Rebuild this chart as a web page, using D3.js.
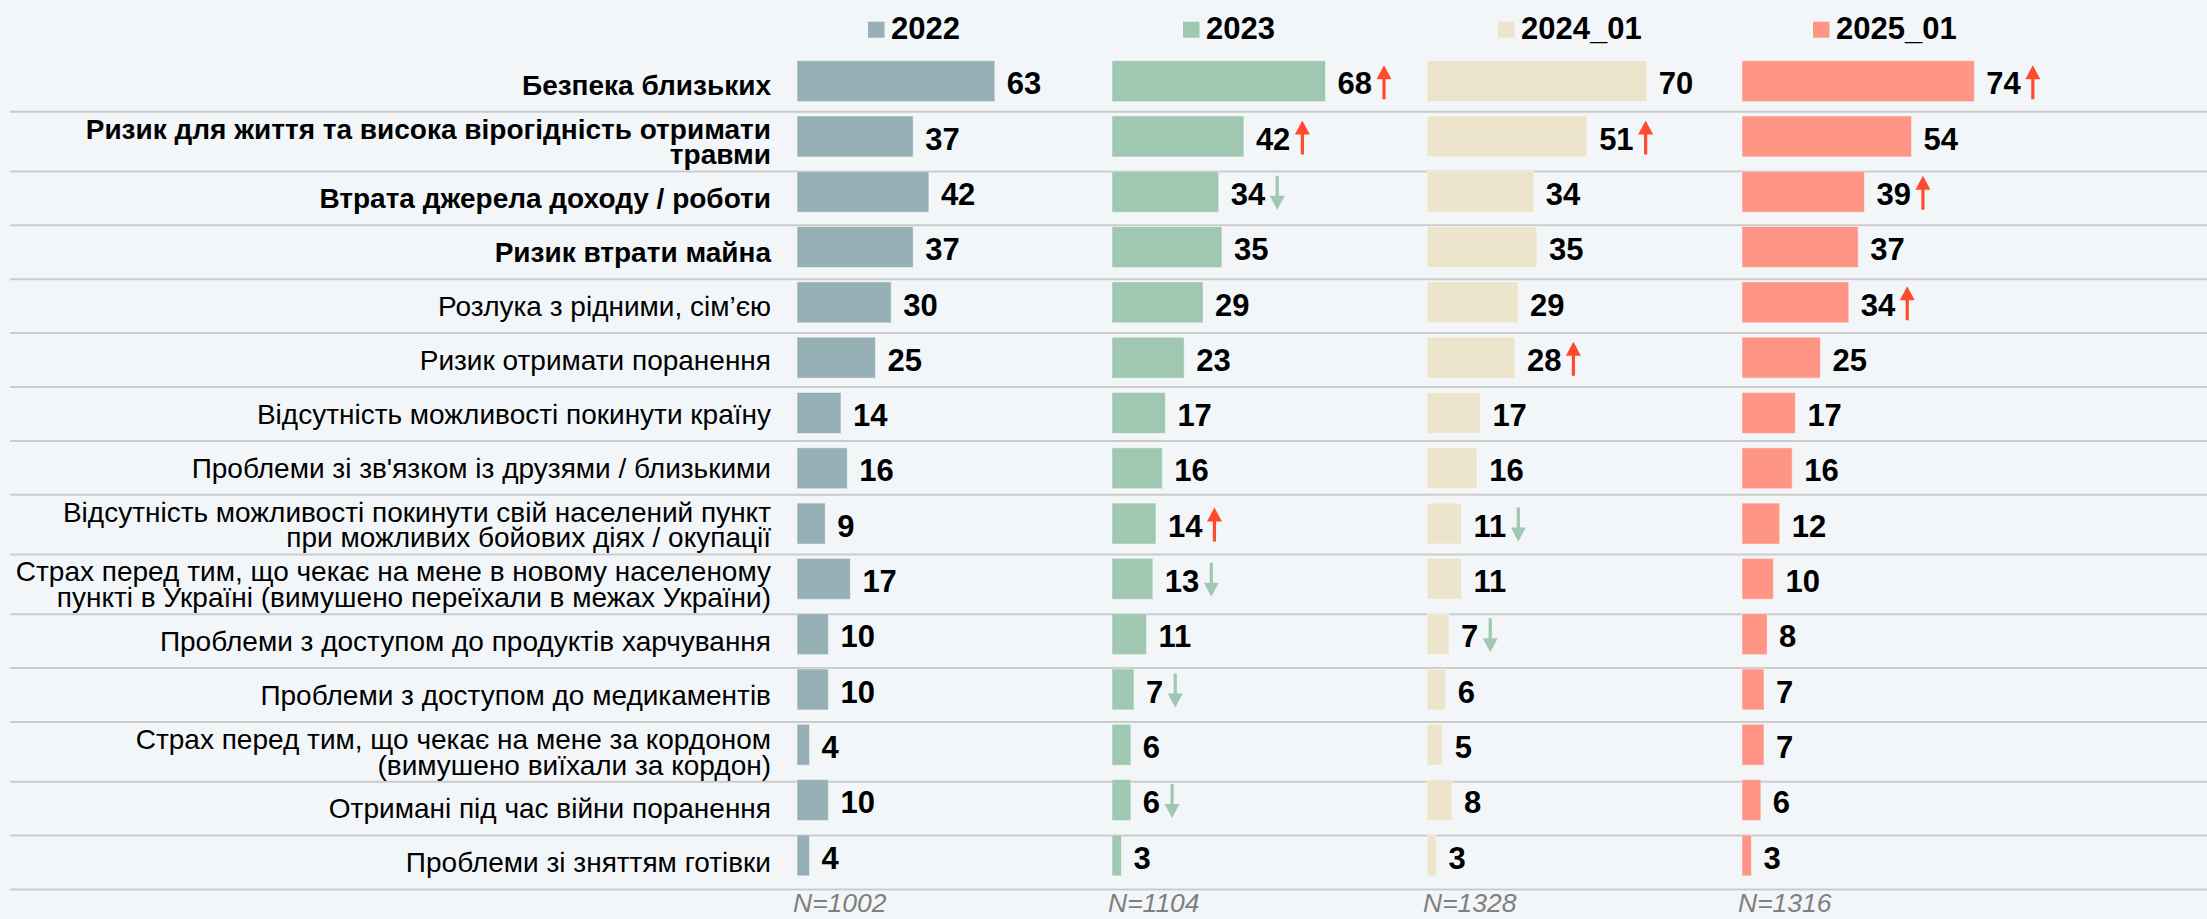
<!DOCTYPE html>
<meta charset="utf-8">
<script src="https://d3js.org/d3.v7.min.js"></script>
<style>
  body { margin: 0; background: #f3f6f8; }
  text { font-family: "Liberation Sans", Arial, sans-serif; }
</style>
<div id="chart"></div>
<script>

// data
const categories = [
  "Безпека близьких",
  "Ризик для життя та висока вірогідність отримати\nтравми",
  "Втрата джерела доходу / роботи",
  "Ризик втрати майна",
  "Розлука з рідними, сім’єю",
  "Ризик отримати поранення",
  "Відсутність можливості покинути країну",
  "Проблеми зі зв'язком із друзями / близькими",
  "Відсутність можливості покинути свій населений пункт\nпри можливих бойових діях / окупації",
  "Страх перед тим, що чекає на мене в новому населеному\nпункті в Україні (вимушено переїхали в межах України)",
  "Проблеми з доступом до продуктів харчування",
  "Проблеми з доступом до медикаментів",
  "Страх перед тим, що чекає на мене за кордоном\n(вимушено виїхали за кордон)",
  "Отримані під час війни поранення",
  "Проблеми зі зняттям готівки"
];
const seriesNames = ["2022", "2023", "2024_01", "2025_01"];
const values2022 = [63, 37, 42, 37, 30, 25, 14, 16, 9, 17, 10, 10, 4, 10, 4];
const values2023 = [68, 42, 34, 35, 29, 23, 17, 16, 14, 13, 11, 7, 6, 6, 3];
const values2024 = [70, 51, 34, 35, 29, 28, 17, 16, 11, 11, 7, 6, 5, 8, 3];
const values2025 = [74, 54, 39, 37, 34, 25, 17, 16, 12, 10, 8, 7, 7, 6, 3];
// significant change vs previous wave
const change2022 = ["", "", "", "", "", "", "", "", "", "", "", "", "", "", ""];
const change2023 = ["up", "up", "down", "", "", "", "", "", "up", "down", "", "down", "", "down", ""];
const change2024 = ["", "up", "", "", "", "up", "", "", "down", "", "down", "", "", "", ""];
const change2025 = ["up", "", "up", "", "up", "", "", "", "", "", "", "", "", "", ""];
const sampleSizes = ["N=1002", "N=1104", "N=1328", "N=1316"];

const allValues = [values2022, values2023, values2024, values2025];
const allChanges = [change2022, change2023, change2024, change2025];
const colors = ["#97b0b5", "#a0c7b2", "#ece5cb", "#ff9585"];
const boldRows = 4;

const width = 2207, height = 919;

const svg = d3.select("#chart")
  .append("svg")
    .attr("width", width)
    .attr("height", height);

svg.append("rect")
  .attr("width", width)
  .attr("height", height)
  .attr("fill", "#f3f6f8");

// label rows (taller when the label wraps)
const lineCount = categories.map(c => c.split("\n").length);
const rowH = lineCount.map(n => n > 1 ? 59.7 : 53.9);
const rowTop = rowH.map((h, i) => 57.8 + d3.sum(rowH.slice(0, i)));

// bar positions
const y = d3.scaleBand()
  .domain(categories)
  .range([53.5, 883])
  .paddingInner(0.26)
  .paddingOuter(0.13);

const col = d3.scaleBand()
  .domain(seriesNames)
  .range([797, 797 + 4 * 315]);

const x = d3.scaleLinear()
  .domain([0, 100])
  .range([0, 314]);

// separators
svg.append("g")
  .selectAll("line")
  .data(categories)
  .join("line")
    .attr("x1", 10)
    .attr("x2", width)
    .attr("y1", (d, i) => rowTop[i] + rowH[i])
    .attr("y2", (d, i) => rowTop[i] + rowH[i])
    .attr("stroke", "#cbcbcb")
    .attr("stroke-width", 2);

// category labels
const labelSize = 28;
const lineGap = 25.7;
const labels = svg.append("g")
  .selectAll("text")
  .data(categories)
  .join("text")
    .attr("text-anchor", "end")
    .attr("font-size", labelSize)
    .attr("font-weight", (d, i) => i < boldRows ? "bold" : "normal")
    .attr("fill", "#000");

labels.each(function(d, i) {
  const lines = d.split("\n");
  const center = rowTop[i] + rowH[i] / 2;
  d3.select(this).selectAll("tspan")
    .data(lines)
    .join("tspan")
      .attr("x", 771)
      .attr("y", (l, j) => center + (j - (lines.length - 1) / 2) * lineGap + labelSize * 0.35)
      .text(l => l);
});

// bars, values and arrows for each wave
seriesNames.forEach((s, si) => {
  const vals = allValues[si];
  const g = svg.append("g").attr("transform", `translate(${col(s)},0)`);

  g.selectAll("rect")
    .data(vals)
    .join("rect")
      .attr("x", 0)
      .attr("y", (d, i) => y(categories[i]))
      .attr("width", d => x(d))
      .attr("height", y.bandwidth())
      .attr("fill", colors[si])
      .attr("stroke", "#ffffff")
      .attr("stroke-opacity", 0.45)
      .attr("stroke-width", 1);

  const valText = g.selectAll("text.val")
    .data(vals)
    .join("text")
      .attr("class", "val")
      .attr("x", d => x(d) + 12)
      .attr("y", (d, i) => y(categories[i]) + y.bandwidth() / 2 + 2)
      .attr("dy", "0.36em")
      .attr("font-size", 31)
      .attr("font-weight", "bold")
      .attr("fill", "#000")
      .text(d => d);

  valText.each(function(d, i) {
    const dir = allChanges[si][i];
    if (!dir) return;
    const cx = x(d) + 12 + this.getComputedTextLength() + 12;
    const cy = y(categories[i]) + y.bandwidth() / 2 + 1;
    const s = dir === "up" ? -1 : 1;
    const tip = cy + s * 17, base = cy - s * 17, neck = tip - s * 14;
    const color = dir === "up" ? "#ff4a2e" : "#9fc7b2";
    g.append("path")
      .attr("d", `M${cx - 1.6},${base}L${cx + 1.6},${base}L${cx + 1.6},${neck}L${cx + 7.5},${neck}L${cx},${tip}L${cx - 7.5},${neck}L${cx - 1.6},${neck}Z`)
      .attr("fill", color);
  });

  // sample size
  svg.append("text")
    .attr("x", col(s) - 4)
    .attr("y", 911.5)
    .attr("font-size", 26.5)
    .attr("font-style", "italic")
    .attr("fill", "#7f7f7f")
    .text(sampleSizes[si]);

  // legend entry above the column
  svg.append("rect")
    .attr("x", col(s) + 71)
    .attr("y", 21.7)
    .attr("width", 16.5)
    .attr("height", 16)
    .attr("fill", colors[si]);
  svg.append("text")
    .attr("x", col(s) + 94)
    .attr("y", 39.3)
    .attr("font-size", 31)
    .attr("font-weight", "bold")
    .attr("fill", "#000")
    .text(s);
});

</script>
